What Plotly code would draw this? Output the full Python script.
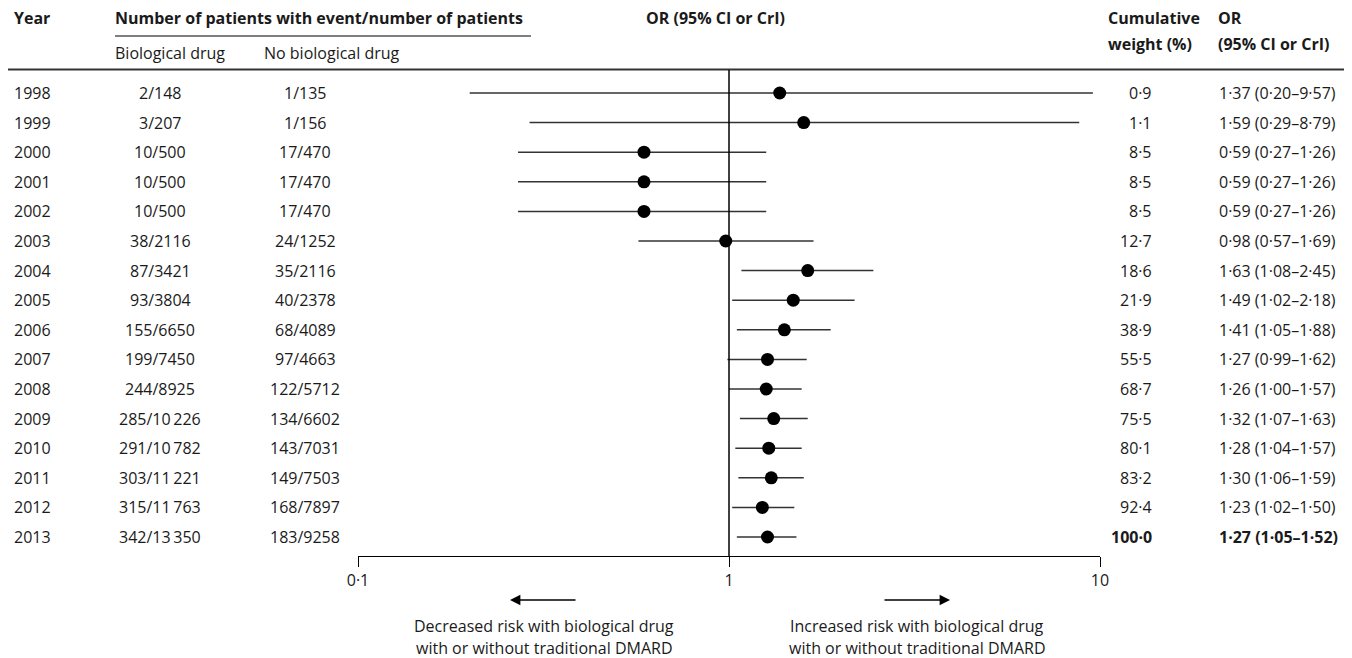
import plotly.graph_objects as go

# page size; the html body keeps its default 8px margin, so the figure starts at (8, 8)
PAGE_W, PAGE_H = 1352, 658
OFF = 8
W, H = PAGE_W - OFF, PAGE_H - OFF

years = ["1998", "1999", "2000", "2001", "2002", "2003", "2004", "2005", "2006",
         "2007", "2008", "2009", "2010", "2011", "2012", "2013"]
bio = ["2/148", "3/207", "10/500", "10/500", "10/500", "38/2116", "87/3421", "93/3804",
       "155/6650", "199/7450", "244/8925", "285/10\u2009226", "291/10\u2009782",
       "303/11\u2009221", "315/11\u2009763", "342/13\u2009350"]
nobio = ["1/135", "1/156", "17/470", "17/470", "17/470", "24/1252", "35/2116", "40/2378",
         "68/4089", "97/4663", "122/5712", "134/6602", "143/7031", "149/7503",
         "168/7897", "183/9258"]
odds = [1.37, 1.59, 0.59, 0.59, 0.59, 0.98, 1.63, 1.49, 1.41, 1.27, 1.26, 1.32, 1.28, 1.30, 1.23, 1.27]
lo = [0.20, 0.29, 0.27, 0.27, 0.27, 0.57, 1.08, 1.02, 1.05, 0.99, 1.00, 1.07, 1.04, 1.06, 1.02, 1.05]
hi = [9.57, 8.79, 1.26, 1.26, 1.26, 1.69, 2.45, 2.18, 1.88, 1.62, 1.57, 1.63, 1.57, 1.59, 1.50, 1.52]
weight = [0.9, 1.1, 8.5, 8.5, 8.5, 12.7, 18.6, 21.9, 38.9, 55.5, 68.7, 75.5, 80.1, 83.2, 92.4, 100.0]
xticks = [0.1, 1, 10]
xticklabels = ["0·1", "1", "10"]

FONT = "Open Sans"
FS = 16
TXT = "#1a1a1a"


def px(x):
    # page pixel -> paper fraction
    return (x - OFF) / W


def py(y):
    return 1 - (y - OFF) / H


def dot(v, nd=2):
    return f"{v:.{nd}f}".replace(".", "·")


rows = list(range(len(years)))
ROW0, STEP = 93, 29.6
AXIS_Y = 556
y_top = (OFF - ROW0) / STEP
y_bot = (AXIS_Y - ROW0) / STEP

fig = go.Figure()
fig.add_trace(go.Scatter(
    x=odds, y=rows, mode="markers",
    marker=dict(size=13, color="black"),
    error_x=dict(type="data", symmetric=False,
                 array=[h - o for h, o in zip(hi, odds)],
                 arrayminus=[o - l for o, l in zip(odds, lo)],
                 color="#333333", thickness=1.5, width=0),
    hoverinfo="skip", showlegend=False,
))

ann = []


def text(x, y, s, xanchor="left", yref="paper", size=FS, bold=False):
    ann.append(dict(x=x, y=y, xref="paper", yref=yref, text=(f"<b>{s}</b>" if bold else s),
                    showarrow=False, xanchor=xanchor, yanchor="middle", borderpad=0,
                    font=dict(family=FONT, size=size, color=TXT)))


# headers
text(px(13), py(18), "Year", bold=True)
text(px(114), py(18), "Number of patients with event/number of patients", bold=True)
text(px(114), py(53), "Biological drug")
text(px(263), py(53), "No biological drug")
text(px(715), py(18), "OR (95% CI or CrI)", xanchor="center", bold=True)
text(px(1107), py(18), "Cumulative", bold=True)
text(px(1107), py(44), "weight (%)", bold=True)
text(px(1217), py(18), "OR", bold=True)
text(px(1217), py(44), "(95% CI or CrI)", bold=True)

last = len(years) - 1
for i in rows:
    b = i == last
    text(px(13), i, years[i], yref="y")
    text(px(160), i, bio[i], xanchor="center", yref="y")
    text(px(305), i, nobio[i], xanchor="center", yref="y")
    text(px(1153), i, dot(weight[i], 1), xanchor="right", yref="y", bold=b)
    text(px(1218), i, f"{dot(odds[i])} ({dot(lo[i])}–{dot(hi[i])})", yref="y", bold=b)

# bottom labels
text(px(544), py(626), "Decreased risk with biological drug", xanchor="center")
text(px(544), py(648), "with or without traditional DMARD", xanchor="center")
text(px(917), py(626), "Increased risk with biological drug", xanchor="center")
text(px(917), py(648), "with or without traditional DMARD", xanchor="center")

# arrows
ann.append(dict(x=px(510), y=py(600), xref="paper", yref="paper", ax=67, ay=0,
                showarrow=True, arrowhead=2, arrowsize=1.3, arrowwidth=1.6,
                arrowcolor="black", text=""))
ann.append(dict(x=px(950), y=py(600), xref="paper", yref="paper", ax=-67, ay=0,
                showarrow=True, arrowhead=2, arrowsize=1.3, arrowwidth=1.6,
                arrowcolor="black", text=""))

shapes = [
    dict(type="line", xref="paper", yref="paper", x0=px(115), x1=px(531),
         y0=py(36), y1=py(36), line=dict(color="black", width=1.2)),
    dict(type="line", xref="paper", yref="paper", x0=0, x1=1,
         y0=py(69.5), y1=py(69.5), line=dict(color="#333333", width=2)),
    dict(type="line", xref="x", yref="paper", x0=1, x1=1,
         y0=py(70), y1=py(AXIS_Y), line=dict(color="black", width=1.5)),
]

fig.update_layout(
    width=W, height=H,
    margin=dict(l=0, r=0, t=0, b=0),
    paper_bgcolor="white", plot_bgcolor="white",
    annotations=ann, shapes=shapes,
    font=dict(family=FONT, size=FS, color=TXT),
    xaxis=dict(type="log", range=[-1, 1], domain=[px(358), px(1100)],
               tickvals=xticks, ticktext=xticklabels, ticks="outside", ticklen=10,
               tickwidth=1.3, tickcolor="black", showline=True, linecolor="black",
               linewidth=1.3, showgrid=False, zeroline=False, automargin=False,
               tickfont=dict(family=FONT, size=FS, color=TXT)),
    yaxis=dict(range=[y_bot, y_top], domain=[py(AXIS_Y), 1], visible=False,
               showgrid=False, zeroline=False, automargin=False),
)

fig.write_html("out.html")
